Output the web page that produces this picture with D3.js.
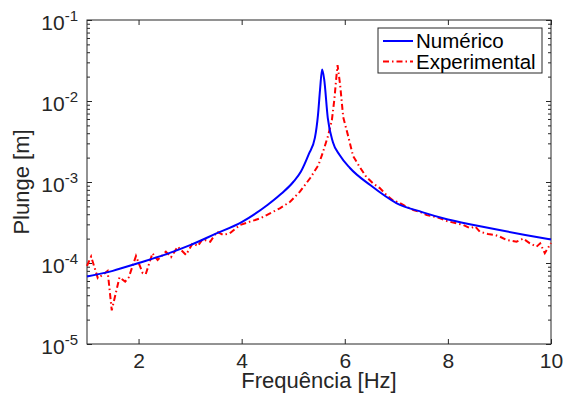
<!doctype html>
<html>
<head>
<meta charset="utf-8">
<style>
    body { margin: 0; background: #fff; }
    svg { display: block; font-family: "Liberation Sans", Arial, Helvetica, sans-serif; }
    .axis path, .axis line { stroke: #262626; }
    .axis text { fill: #262626; }
</style>
<script src="https://cdn.jsdelivr.net/npm/d3@7"></script>
</head>
<body>
<div id="chart"></div>
<script>
// numerical response
var numFreq = [1, 1.5, 2, 2.5, 3, 3.5, 4, 4.5, 4.75, 5, 5.15, 5.3, 5.42, 5.48, 5.52, 5.56, 5.6, 5.67, 5.77, 5.9, 6.1, 6.5, 7, 7.5, 8, 8.5, 9, 9.5, 10];
var numAmp  = [6.8e-5, 8.0e-5, 1.0e-4, 1.26e-4, 1.66e-4, 2.3e-4, 3.2e-4, 5.2e-4, 7.0e-4, 1.0e-3, 1.35e-3, 2.2e-3, 3.5e-3, 6.7e-3, 1.37e-2, 2.45e-2, 1.86e-2, 6.2e-3, 3.1e-3, 2.15e-3, 1.49e-3, 9.1e-4, 5.5e-4, 4.25e-4, 3.45e-4, 2.95e-4, 2.55e-4, 2.22e-4, 1.95e-4];

// experimental response
var expFreq = [1.00, 1.08, 1.21, 1.30, 1.40, 1.48, 1.63, 1.74, 1.81, 1.95, 2.08, 2.14, 2.27, 2.37, 2.53, 2.63, 2.76, 2.92, 3.05, 3.15, 3.24, 3.39, 3.52, 3.64, 3.77, 3.97, 4.16, 4.36, 4.55, 4.74, 4.94, 5.13, 5.33, 5.49, 5.58, 5.68, 5.75, 5.80, 5.84, 5.86, 5.91, 5.97, 6.07, 6.16, 6.29, 6.42, 6.55, 6.68, 6.81, 6.94, 7.07, 7.20, 7.33, 7.46, 7.59, 7.72, 7.85, 7.98, 8.17, 8.30, 8.43, 8.53, 8.62, 8.78, 8.91, 9.01, 9.14, 9.33, 9.46, 9.59, 9.72, 9.79, 9.88, 10.0];
var expAmp  = [9.2e-5, 1.2e-4, 6.5e-5, 7.1e-5, 8.0e-5, 2.6e-5, 6.65e-5, 5.9e-5, 6.65e-5, 1.22e-4, 7.5e-5, 7.3e-5, 1.32e-4, 1.09e-4, 1.38e-4, 1.18e-4, 1.59e-4, 1.26e-4, 1.75e-4, 1.62e-4, 1.96e-4, 1.83e-4, 2.43e-4, 2.22e-4, 2.33e-4, 2.95e-4, 3.24e-4, 3.56e-4, 4.1e-4, 4.73e-4, 5.7e-4, 7.6e-4, 1.12e-3, 1.62e-3, 2.37e-3, 3.8e-3, 5.8e-3, 1.08e-2, 2.09e-2, 2.78e-2, 1.58e-2, 6.3e-3, 3.6e-3, 2.1e-3, 1.53e-3, 1.15e-3, 9.6e-4, 8.4e-4, 6.9e-4, 5.9e-4, 5.5e-4, 4.95e-4, 4.5e-4, 4.27e-4, 3.9e-4, 3.75e-4, 3.56e-4, 3.3e-4, 3.08e-4, 2.95e-4, 2.69e-4, 2.82e-4, 2.43e-4, 2.28e-4, 2.22e-4, 2.11e-4, 1.92e-4, 1.83e-4, 2.0e-4, 1.75e-4, 1.59e-4, 1.75e-4, 1.32e-4, 1.77e-4];

var xTicks = [2, 4, 6, 8, 10];
var yTicks = [1e-5, 1e-4, 1e-3, 1e-2, 1e-1];
var yExp = ["-5", "-4", "-3", "-2", "-1"];
var seriesNames = ["Numérico", "Experimental"];

var W = 563, H = 398;
var mLeft = 87, mRight = 551, mTop = 20, mBottom = 344;

var svg = d3.select("#chart").append("svg")
    .attr("width", W).attr("height", H);

var x = d3.scaleLinear().domain([1, 10]).range([mLeft, mRight]);
var y = d3.scaleLog().domain([1e-5, 1e-1]).range([mBottom, mTop]);

// minor ticks for the log axis
var minor = [];
yTicks.slice(0, -1).forEach(function(d) {
    for (var k = 2; k <= 9; k++) minor.push(d * k);
});

// box
svg.append("rect")
    .attr("x", mLeft).attr("y", mTop)
    .attr("width", mRight - mLeft).attr("height", mBottom - mTop)
    .attr("fill", "#fff").attr("stroke", "#262626").attr("stroke-width", 1);

// x axes
svg.append("g").attr("class", "axis")
    .attr("transform", "translate(0," + mBottom + ")")
    .call(d3.axisBottom(x).tickValues(xTicks).tickSizeInner(-5).tickSizeOuter(0).tickPadding(9))
    .call(function(g) { g.select(".domain").remove(); })
    .call(function(g) { g.attr("font-size", 21).attr("font-family", null); });

svg.append("g").attr("class", "axis")
    .attr("transform", "translate(0," + mTop + ")")
    .call(d3.axisTop(x).tickValues(xTicks).tickSizeInner(-5).tickSizeOuter(0).tickFormat(""))
    .call(function(g) { g.select(".domain").remove(); });

// y axes (major + minor)
[[mLeft, d3.axisLeft], [mRight, d3.axisRight]].forEach(function(a) {
    svg.append("g").attr("class", "axis")
        .attr("transform", "translate(" + a[0] + ",0)")
        .call(a[1](y).tickValues(yTicks).tickSizeInner(-5).tickSizeOuter(0).tickFormat(""))
        .call(function(g) { g.select(".domain").remove(); });
    svg.append("g").attr("class", "axis")
        .attr("transform", "translate(" + a[0] + ",0)")
        .call(a[1](y).tickValues(minor).tickSizeInner(-3).tickSizeOuter(0).tickFormat(""))
        .call(function(g) { g.select(".domain").remove(); });
});

// y tick labels with superscripts
var yl = svg.append("g").selectAll("text")
    .data(yTicks)
    .enter().append("text")
    .attr("x", 78)
    .attr("y", function(d) { return y(d) + 10; })
    .attr("text-anchor", "end")
    .attr("fill", "#262626")
    .attr("font-size", 21);
yl.append("tspan").text("10");
yl.append("tspan")
    .attr("dy", -9)
    .attr("font-size", 15)
    .text(function(d, i) { return yExp[i]; });

// lines
var lineNum = d3.line()
    .x(function(d, i) { return x(numFreq[i]); })
    .y(function(d) { return y(d); })
    .curve(d3.curveMonotoneX);

var lineExp = d3.line()
    .x(function(d, i) { return x(expFreq[i]); })
    .y(function(d) { return y(d); });

svg.append("path")
    .datum(expAmp)
    .attr("d", lineExp)
    .attr("fill", "none")
    .attr("stroke", "#ff0000")
    .attr("stroke-width", 2)
    .attr("stroke-dasharray", "6,3,1.5,3");

svg.append("path")
    .datum(numAmp)
    .attr("d", lineNum)
    .attr("fill", "none")
    .attr("stroke", "#0000ff")
    .attr("stroke-width", 2);

// axis titles
svg.append("text")
    .attr("x", (mLeft + mRight) / 2).attr("y", 388)
    .attr("text-anchor", "middle")
    .attr("fill", "#262626")
    .attr("font-size", 22)
    .text("Frequência [Hz]");

svg.append("text")
    .attr("transform", "translate(29," + ((mTop + mBottom) / 2) + ") rotate(-90)")
    .attr("text-anchor", "middle")
    .attr("fill", "#262626")
    .attr("font-size", 22)
    .text("Plunge [m]");

// legend
var lg = svg.append("g");
lg.append("rect")
    .attr("x", 378).attr("y", 28).attr("width", 164).attr("height", 45)
    .attr("fill", "#fff").attr("stroke", "#262626").attr("stroke-width", 1);
var styles = [{c: "#0000ff", dash: null}, {c: "#ff0000", dash: "6,3,1.5,3"}];
seriesNames.forEach(function(name, i) {
    var yy = 41 + i * 20.5;
    lg.append("line")
        .attr("x1", 383).attr("x2", 413).attr("y1", yy).attr("y2", yy)
        .attr("stroke", styles[i].c).attr("stroke-width", 2)
        .attr("stroke-dasharray", styles[i].dash);
    lg.append("text")
        .attr("x", 416).attr("y", yy + 7)
        .attr("font-size", 20.5)
        .attr("fill", "#000")
        .text(name);
});
</script>
</body>
</html>
